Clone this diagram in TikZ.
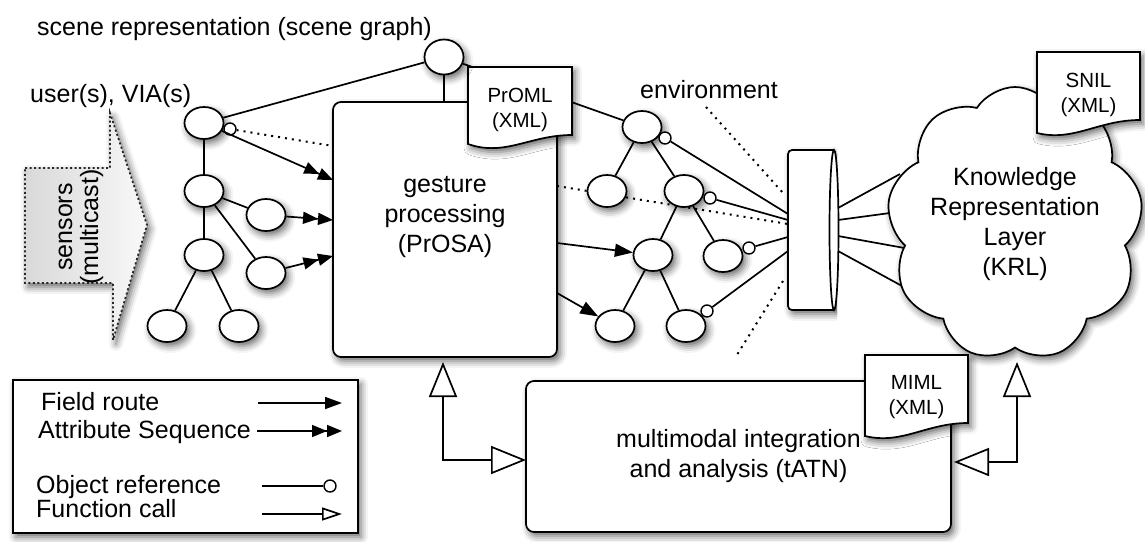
\documentclass[tikz,border=0pt]{standalone}
\usepackage{fontspec}
\setmainfont{Liberation Sans}
\usetikzlibrary{arrows.meta,shapes.geometric,shapes.symbols,shadows.blur}
\pgfdeclarelayer{bg}
\pgfsetlayers{bg,main}
\tikzset{
  ln/.style={line width=1.7pt, draw=black},
  sh/.style={blur shadow={shadow xshift=3pt, shadow yshift=-4pt, shadow blur radius=7pt, shadow opacity=60}},
  tn/.style={ellipse, ln, fill=white, minimum width=39pt, minimum height=32pt, inner sep=0pt, sh},
  rc/.style={circle, draw, line width=1.4pt, fill=white, minimum size=12pt, inner sep=0pt},
  bigfont/.style={font=\fontsize{25}{30}\selectfont},
  docfont/.style={font=\fontsize{20.5}{25}\selectfont},
  fr/.style={ln, -{Triangle[length=18pt,width=13pt]}},
  frs/.style={ln, -{Triangle[length=17pt,width=12pt]}},
  dbl/.style={ln, -{Triangle[length=15pt,width=12pt]Triangle[length=15pt,width=12pt]}},
  fcb/.style={ln, {Triangle[open,length=35pt,width=28pt]}-{Triangle[open,length=35pt,width=28pt]}},
  fcs/.style={ln, -{Triangle[open,length=20pt,width=13pt]}},
  dotl/.style={line width=2pt, dash pattern=on 2pt off 5pt},
  doc/.style={ln, fill=white, sh},
  boxst/.style={ln, fill=white, rounded corners=8pt, inner sep=0pt, sh},
}
\begin{document}
\begin{tikzpicture}[x=1pt,y=-1pt]
\useasboundingbox (0,0) rectangle (1145,541);

% labels
\node[bigfont, anchor=base west, inner sep=0] (title) at (37,35) {scene representation (scene graph)};
\node[bigfont, anchor=base west, inner sep=0] (users) at (30,102) {user(s), VIA(s)};
\node[bigfont, anchor=base west, inner sep=0] (envl) at (640,98) {environment};

% sensors block arrow
\shade[left color=gray!30, right color=gray!5, sh]
  (25,168) -- (110,168) -- (110,113) -- (147,225) -- (113,340) -- (113,283) -- (25,283) -- cycle;
\draw[line width=1.8pt, draw=black!85, dash pattern=on 2pt off 2.5pt]
  (25,168) -- (110,168) -- (110,113) -- (147,225) -- (113,340) -- (113,283) -- (25,283) -- cycle;
\node[font=\fontsize{25}{26}\selectfont, rotate=90, align=center, inner sep=0] (sens) at (81,227) {sensors\\(multicast)};

% gesture processing box + PrOML doc
\node[boxst, minimum width=224pt, minimum height=255pt] (gp) at (445,229.5) {};
\node[bigfont, align=center] (gpt) at (445,217) {gesture\\processing\\(PrOSA)};
\draw[doc] (468,67) -- (572,67) -- (572,135) .. controls (530,135) and (505,157) .. (468,144) -- cycle;
\node[docfont, align=center] (proml) at (520,110) {PrOML\\(XML)};

% scene root
\node[tn, minimum height=35pt] (sr) at (444,57) {};

% user tree
\node[tn] (u1) at (204,123) {};
\node[tn] (u2) at (204,191) {};
\node[tn] (u3) at (266,215) {};
\node[tn] (u4) at (204,255) {};
\node[tn] (u5) at (266,273) {};
\node[tn] (u6) at (167,326) {};
\node[tn] (u7) at (239,326) {};
\node[rc] (rcu1) at (230,129) {};

% environment tree
\node[tn] (e1) at (642,127) {};
\node[tn] (e2) at (607,191) {};
\node[tn] (e3) at (684,191) {};
\node[tn] (e4) at (653,255) {};
\node[tn] (e5) at (723,256) {};
\node[tn] (e6) at (615,326) {};
\node[tn] (e7) at (686,326) {};
\node[rc] (rce1) at (665,138) {};
\node[rc] (rce3) at (710,198) {};
\node[rc] (rce5) at (749,248) {};
\node[rc] (rce7) at (707,311) {};

% lens
\node[inner sep=0, minimum width=50pt, minimum height=160pt] (lens) at (813,230) {};
\draw[ln, fill=white, sh, rounded corners=4pt] (834,150) -- (788,150) -- (788,310) -- (834,310);
\draw[ln, fill=white] (834,230) ellipse [x radius=4.5, y radius=80];

% knowledge cloud + SNIL
\node[cloud, cloud puffs=9, cloud puff arc=115, cloud ignores aspect, ln, fill=white, sh,
      minimum width=256pt, minimum height=274pt, inner sep=0, bigfont, align=center] (krl) at (1015,224)
      {Knowledge\\Representation\\Layer\\(KRL)};
\draw[doc] (1037,52) -- (1140,52) -- (1140,120) .. controls (1098,120) and (1074,142) .. (1037,133) -- cycle;
\node[docfont, align=center] (snil) at (1088.5,95) {SNIL\\(XML)};

% multimodal box + MIML doc
\node[boxst, minimum width=425pt, minimum height=151pt, bigfont, align=center] (mi) at (738.5,456.5)
  {multimodal integration\\and analysis (tATN)};
\draw[doc] (865,355) -- (968,355) -- (968,423) .. controls (926,423) and (902,445) .. (865,436) -- cycle;
\node[docfont, align=center] (miml) at (916.5,397) {MIML\\(XML)};

% legend
\node[ln, fill=white, minimum width=345pt, minimum height=153pt, inner sep=0, sh] (leg) at (185.5,456.5) {};
\node[bigfont, anchor=base west, inner sep=0] (lt1) at (41,410) {Field route};
\node[bigfont, anchor=base west, inner sep=0] (lt2) at (38,438) {Attribute Sequence};
\node[bigfont, anchor=base west, inner sep=0] (lt3) at (36,493) {Object reference};
\node[bigfont, anchor=base west, inner sep=0] (lt4) at (36,517) {Function call};
\coordinate (lf1) at (258,403); \coordinate (lf2) at (342,403);
\coordinate (la1) at (257,431); \coordinate (la2) at (342,431);
\coordinate (lo1) at (262,486); \node[rc] (lgc) at (330,486) {};
\coordinate (lc1) at (262,514); \coordinate (lc2) at (342,514);
\draw[frs] (lf1) -- (lf2);
\draw[dbl] (la1) -- (la2);
\draw[ln] (lo1) -- (lgc);
\draw[fcs] (lc1) -- (lc2);

% connector end points
\coordinate (gpin1) at (333,180);
\coordinate (gpin2) at (333,220);
\coordinate (gpin3) at (333,256);
\coordinate (gpd1) at (333,146);
\coordinate (gpd2) at (557,186);
\coordinate (gpo1) at (557,243);
\coordinate (gpo2) at (557,293);
\coordinate (L1) at (788,214);
\coordinate (L2) at (788,224);
\coordinate (L3) at (788,220);
\coordinate (L4) at (788,237);
\coordinate (L5) at (788,251);
\coordinate (Ltop) at (783,193);
\coordinate (Lbot) at (783,281);
\coordinate (envd1) at (706,107);
\coordinate (envd2) at (735,358);
\coordinate (R1) at (838,208); \coordinate (C1) at (900,174);
\coordinate (R2) at (838,220); \coordinate (C2) at (905,211);
\coordinate (R3) at (838,236); \coordinate (C3) at (910,249);
\coordinate (R4) at (838,251); \coordinate (C4) at (902,286);
\coordinate (gpb) at (443,362);
\coordinate (mil) at (526,460);
\coordinate (krlb) at (1017,362);
\coordinate (mir) at (954,462);

\begin{pgfonlayer}{bg}
  \draw[ln] (sr) -- (u1);
  \draw[ln] (sr) -- (e1);
  \draw[ln] (sr) -- (sr |- gp.north);
  \draw[ln] (u1) -- (u2); \draw[ln] (u2) -- (u3); \draw[ln] (u2) -- (u5);
  \draw[ln] (u2) -- (u4); \draw[ln] (u4) -- (u6); \draw[ln] (u4) -- (u7);
  \draw[ln] (e1) -- (e2); \draw[ln] (e1) -- (e3); \draw[ln] (e3) -- (e4);
  \draw[ln] (e3) -- (e5); \draw[ln] (e4) -- (e6); \draw[ln] (e4) -- (e7);
  \draw[dotl] (rcu1) -- (gpd1);
  \draw[dotl] (gpd2) -- (L2);
  \draw[dotl] (envd1) -- (Ltop);
  \draw[dotl] (Lbot) -- (envd2);
  \draw[ln] (rce1) -- (L1);
  \draw[ln] (rce3) -- (L3);
  \draw[ln] (rce5) -- (L4);
  \draw[ln] (rce7) -- (L5);
  \draw[ln] (R1) -- (C1); \draw[ln] (R2) -- (C2);
  \draw[ln] (R3) -- (C3); \draw[ln] (R4) -- (C4);
\end{pgfonlayer}

\draw[dbl] (u1) -- (gpin1);
\draw[dbl] (u3) -- (gpin2);
\draw[dbl] (u5) -- (gpin3);
\draw[fr] (gpo1) -- (e4);
\draw[fr] (gpo2) -- (e6);
\draw[fcb] (gpb) |- (mil);
\draw[fcb] (krlb) |- (mir);
\end{tikzpicture}
\end{document}
